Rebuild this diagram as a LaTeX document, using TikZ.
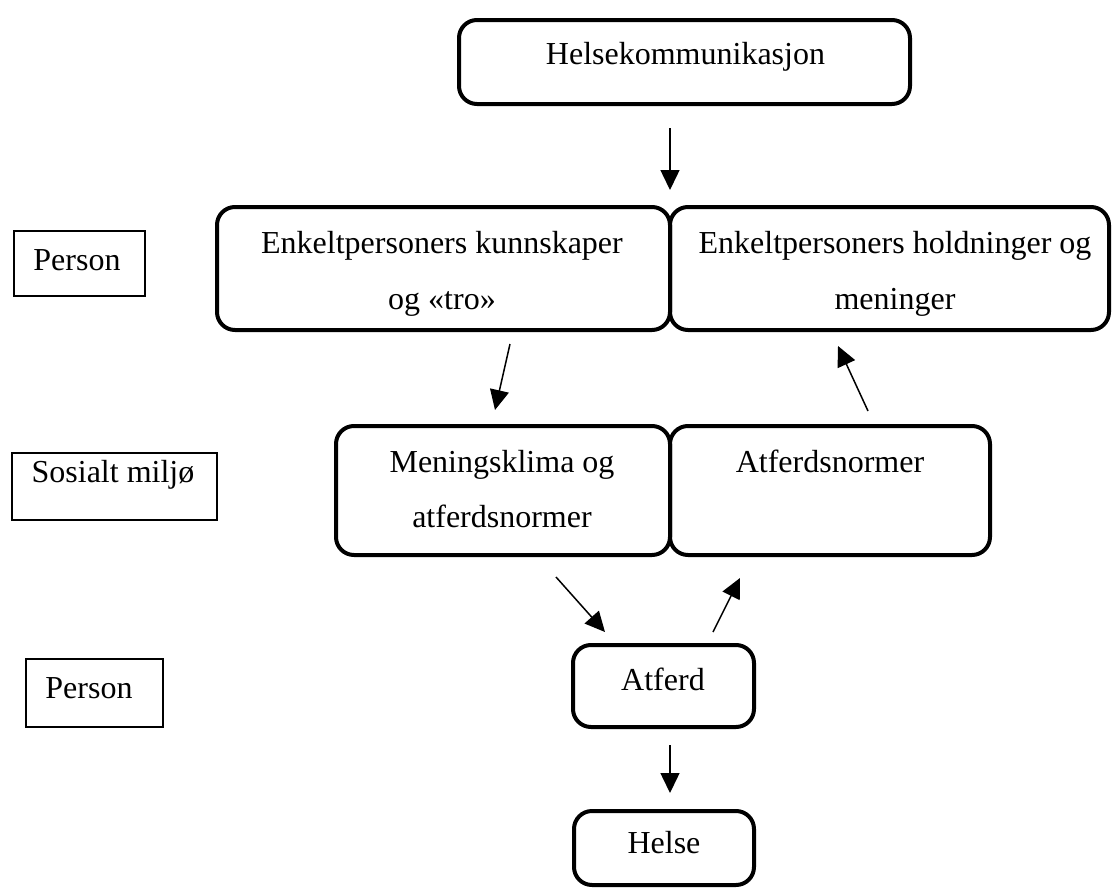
\documentclass[tikz,border=0pt]{standalone}
\usepackage{fontspec}
\setmainfont{Liberation Serif}
\usetikzlibrary{arrows.meta}
\begin{document}
\begin{tikzpicture}[x=1pt,y=-1pt,
  rbox/.style={draw, line width=4pt, rounded corners=18pt, inner sep=0pt, outer sep=0pt},
  sbox/.style={draw, line width=1.5pt, inner sep=0pt, outer sep=0pt},
  txt/.style={font=\fontsize{32}{56}\selectfont, anchor=base, inner sep=0pt},
  arr/.style={line width=1.5pt, -{Triangle[length=20pt,width=19pt]}}
]
\useasboundingbox (0,0) rectangle (1112,889);
% rounded boxes
\node[rbox, minimum width=451pt, minimum height=84pt] (hk) at (684.5,62) {};
\node[rbox, minimum width=453pt, minimum height=123pt] (k1) at (443.5,268.5) {};
\node[rbox, minimum width=439pt, minimum height=123pt] (k2) at (889.5,268.5) {};
\node[rbox, minimum width=334pt, minimum height=129pt] (m1) at (503,490.5) {};
\node[rbox, minimum width=320pt, minimum height=129pt] (m2) at (830,490.5) {};
\node[rbox, minimum width=181pt, minimum height=82pt] (at) at (663.5,686) {};
\node[rbox, minimum width=180pt, minimum height=74pt] (he) at (664,848) {};
% side boxes
\node[sbox, minimum width=131pt, minimum height=65pt] (p1) at (79.5,263.5) {};
\node[sbox, minimum width=205pt, minimum height=67pt] (so) at (114.5,486.5) {};
\node[sbox, minimum width=137pt, minimum height=68pt] (p2) at (94.5,693) {};
% texts
\node[txt] (hk-t) at (685.5,64) {Helsekommunikasjon};
\node[txt] (k1-t1) at (442,253) {Enkeltpersoners kunnskaper};
\node[txt] (k1-t2) at (442,309) {og «tro»};
\node[txt] (k2-t1) at (895,253) {Enkeltpersoners holdninger og};
\node[txt] (k2-t2) at (895,309) {meninger};
\node[txt] (m1-t1) at (502,472) {Meningsklima og};
\node[txt] (m1-t2) at (502,527) {atferdsnormer};
\node[txt] (m2-t) at (830,472) {Atferdsnormer};
\node[txt] (at-t) at (663,690) {Atferd};
\node[txt] (he-t) at (664,853) {Helse};
\node[txt] (p1-t) at (77,270) {Person};
\node[txt] (so-t) at (113,482) {Sosialt miljø};
\node[txt] (p2-t) at (89,698) {Person};
% connector end points
\coordinate (a1s) at (670,128); \coordinate (a1e) at (670,190);
\coordinate (a2s) at (510,344); \coordinate (a2e) at (495,410);
\coordinate (a3s) at (868,411); \coordinate (a3e) at (838,346);
\coordinate (a4s) at (556,577); \coordinate (a4e) at (605,632);
\coordinate (a5s) at (713,632); \coordinate (a5e) at (740,578);
\coordinate (a6s) at (670,745); \coordinate (a6e) at (670,793);
\draw[arr] (a1s) -- (a1e);
\draw[arr] (a2s) -- (a2e);
\draw[arr] (a3s) -- (a3e);
\draw[arr] (a4s) -- (a4e);
\draw[arr] (a5s) -- (a5e);
\draw[arr] (a6s) -- (a6e);
\end{tikzpicture}
\end{document}
